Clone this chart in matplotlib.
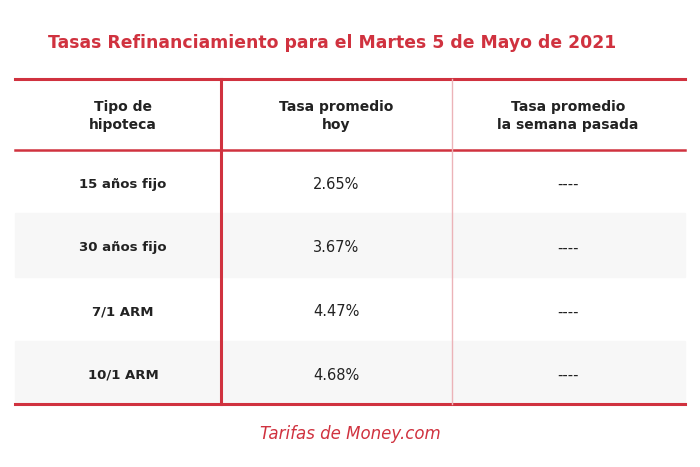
import matplotlib
matplotlib.use("Agg")
import matplotlib.pyplot as plt
from matplotlib.patches import Rectangle

title = "Tasas Refinanciamiento para el Martes 5 de Mayo de 2021"
headers = ["Tipo de\nhipoteca", "Tasa promedio\nhoy", "Tasa promedio\nla semana pasada"]
loan_types = ["15 años fijo", "30 años fijo", "7/1 ARM", "10/1 ARM"]
rates_today = ["2.65%", "3.67%", "4.47%", "4.68%"]
rates_last_week = ["----", "----", "----", "----"]
footer = "Tarifas de Money.com"

RED = "#d0323f"
W, H = 700, 467
fig = plt.figure(figsize=(7, 4.67), dpi=100)
ax = fig.add_axes([0, 0, 1, 1])
ax.set_xlim(0, W); ax.set_ylim(H, 0); ax.axis("off")

ax.text(48, 43, title, color=RED, fontsize=12.4, fontweight="bold", va="center", ha="left")

row_tops = [150, 213, 277, 341]
row_h = [63, 64, 64, 62]
for i, (t, h) in enumerate(zip(row_tops, row_h)):
    if i % 2 == 1:
        ax.add_patch(Rectangle((15, t), 670, h, color="#f7f7f7", zorder=0))

cx = [123, 336, 568]
for x, hd in zip(cx, headers):
    ax.text(x, 116, hd, ha="center", va="center", fontsize=10, fontweight="bold", color="#222222", linespacing=1.3)

for i, t in enumerate(row_tops):
    y = t + row_h[i] / 2 + 3
    ax.text(cx[0], y, loan_types[i], ha="center", va="center", fontsize=9.5, fontweight="bold", color="#222222")
    ax.text(cx[1], y, rates_today[i], ha="center", va="center", fontsize=10.5, color="#222222")
    ax.text(cx[2], y, rates_last_week[i], ha="center", va="center", fontsize=10.5, color="#222222")

ax.plot([15, 685], [79, 79], color=RED, lw=2.2)
ax.plot([15, 685], [150, 150], color=RED, lw=1.8)
ax.plot([15, 685], [404, 404], color=RED, lw=2.2)
ax.plot([221, 221], [79, 404], color=RED, lw=2.2)
ax.plot([452, 452], [79, 404], color="#ecb3b8", lw=1)

ax.text(350, 434, footer, ha="center", va="center", fontsize=12, style="italic", color=RED)

fig.savefig("out.png", dpi=100)
